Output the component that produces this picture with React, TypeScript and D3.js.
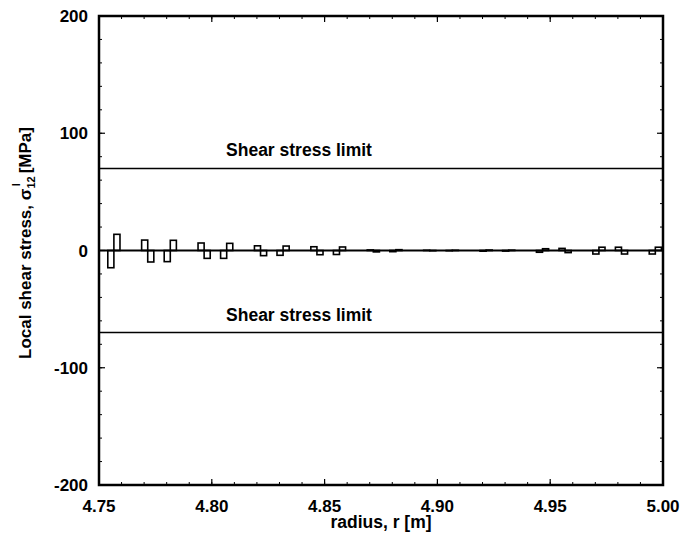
import React from "react";
import * as d3 from "d3";

// Element centers (radius, m) and the two half-element stress values (MPa)
const centers = [
  4.7566, 4.7716, 4.7816, 4.7966, 4.8066, 4.8216, 4.8316, 4.8466, 4.8566, 4.8716,
  4.8816, 4.8966, 4.9066, 4.9216, 4.9316, 4.9466, 4.9566, 4.9716, 4.9816, 4.9966,
];
const leftValues = [
  -14.7, 8.9, -9.5, 6.4, -6.7, 4.0, -4.1, 3.2, -3.4, 0.5,
  -1.0, 0.2, -0.2, -0.6, -0.5, -1.5, 1.8, -3.0, 2.8, -3.0,
];
const rightValues = [
  13.8, -9.8, 8.7, -6.7, 6.1, -4.4, 3.8, -3.6, 3.0, -1.2,
  0.7, -0.2, 0.2, 0.4, 0.3, 1.5, -1.8, 2.8, -3.0, 2.8,
];
const halfWidth = 0.0027;
const limitValues = [70, -70];
const limitLabel = "Shear stress limit";
const xTicks = [4.75, 4.8, 4.85, 4.9, 4.95, 5.0];
const yTicks = [-200, -100, 0, 100, 200];

const W = 681;
const H = 536;
const L = 99, R = 663, T = 16, B = 485;

export default function App() {
  const x = d3.scaleLinear().domain([4.75, 5.0]).range([L, R]);
  const y = d3.scaleLinear().domain([-200, 200]).range([B, T]);
  const font = "'Liberation Sans', Arial, Helvetica, sans-serif";

  const xMinor = d3.range(4.75, 5.0001, 0.01);
  const yMinor = d3.range(-200, 200.001, 20);

  const bars: { x0: number; x1: number; v: number }[] = [];
  centers.forEach((c, i) => {
    bars.push({ x0: c - halfWidth, x1: c, v: leftValues[i] });
    bars.push({ x0: c, x1: c + halfWidth, v: rightValues[i] });
  });

  return (
    <svg
      width={W}
      height={H}
      style={{ position: "absolute", left: 0, top: 0, background: "#fff" }}
      fontFamily={font}
    >
      <rect x={0} y={0} width={W} height={H} fill="#fff" />
      {/* minor ticks */}
      {xMinor.map((t, i) => (
        <g key={"xm" + i} stroke="#000" strokeWidth={1}>
          <line x1={x(t)} x2={x(t)} y1={B} y2={B - 3} />
          <line x1={x(t)} x2={x(t)} y1={T} y2={T + 3} />
        </g>
      ))}
      {yMinor.map((t, i) => (
        <g key={"ym" + i} stroke="#000" strokeWidth={1}>
          <line x1={L} x2={L + 3} y1={y(t)} y2={y(t)} />
          <line x1={R} x2={R - 3} y1={y(t)} y2={y(t)} />
        </g>
      ))}
      {xTicks.map((t, i) => (
        <g key={"xt" + i}>
          <line x1={x(t)} x2={x(t)} y1={B} y2={B - 6} stroke="#000" strokeWidth={1.2} />
          <line x1={x(t)} x2={x(t)} y1={T} y2={T + 6} stroke="#000" strokeWidth={1.2} />
          <text
            x={x(t)}
            y={B + 27}
            textAnchor="middle"
            fontSize={17}
            fontWeight="bold"
          >
            {t.toFixed(2)}
          </text>
        </g>
      ))}
      {yTicks.map((t, i) => (
        <g key={"yt" + i}>
          <line x1={L} x2={L + 6} y1={y(t)} y2={y(t)} stroke="#000" strokeWidth={1.2} />
          <line x1={R} x2={R - 6} y1={y(t)} y2={y(t)} stroke="#000" strokeWidth={1.2} />
          <text
            x={L - 11}
            y={y(t) + 6}
            textAnchor="end"
            fontSize={17}
            fontWeight="bold"
          >
            {t}
          </text>
        </g>
      ))}
      {/* zero line */}
      <line x1={L} x2={R} y1={y(0)} y2={y(0)} stroke="#000" strokeWidth={2.2} />
      {/* limit lines */}
      {limitValues.map((v, i) => (
        <g key={"lim" + i}>
          <line x1={L} x2={R} y1={y(v)} y2={y(v)} stroke="#000" strokeWidth={1.5} />
          <text
            x={299}
            y={y(v) - 12}
            textAnchor="middle"
            fontSize={17.5}
            fontWeight="bold"
          >
            {limitLabel}
          </text>
        </g>
      ))}
      {/* bars */}
      {bars.map((b, i) => (
        <rect
          key={"b" + i}
          x={x(b.x0)}
          width={x(b.x1) - x(b.x0)}
          y={Math.min(y(b.v), y(0))}
          height={Math.abs(y(b.v) - y(0))}
          fill="none"
          stroke="#000"
          strokeWidth={1.6}
        />
      ))}
      {/* frame */}
      <rect x={L} y={T} width={R - L} height={B - T} fill="none" stroke="#000" strokeWidth={2.5} />
      {/* axis titles */}
      <text x={381} y={528} textAnchor="middle" fontSize={17.5} fontWeight="bold">
        radius, r [m]
      </text>
      <text
        transform={`translate(31,${243}) rotate(-90)`}
        textAnchor="middle"
        fontSize={17}
        fontWeight="bold"
      >
        Local shear stress, σ
        <tspan fontSize={11} dy={4}>12</tspan>
        <tspan fontSize={11} dx={-10} dy={-15}>l</tspan>
        <tspan dx={10} dy={11}>[MPa]</tspan>
      </text>
    </svg>
  );
}
